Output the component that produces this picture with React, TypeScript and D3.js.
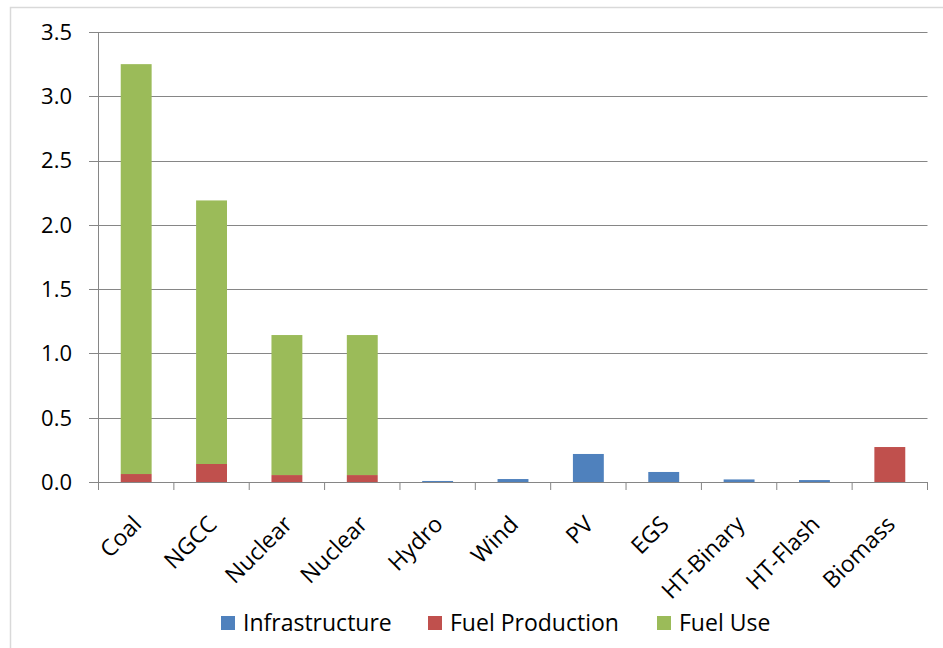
import React from "react";
import * as d3 from "d3";

const categories = ["Coal", "NGCC", "Nuclear", "Nuclear ", "Hydro", "Wind", "PV", "EGS", "HT-Binary", "HT-Flash", "Biomass"];
const categoryLabels = ["Coal", "NGCC", "Nuclear", "Nuclear", "Hydro", "Wind", "PV", "EGS", "HT-Binary", "HT-Flash", "Biomass"];
const infrastructure = [0, 0, 0, 0, 0.008, 0.023, 0.218, 0.078, 0.02, 0.015, 0];
const fuelProduction = [0.062, 0.14, 0.054, 0.054, 0, 0, 0, 0, 0, 0, 0.272];
const fuelUse = [3.188, 2.05, 1.089, 1.089, 0, 0, 0, 0, 0, 0, 0];
const seriesNames = ["Infrastructure", "Fuel Production", "Fuel Use"];
const seriesColors = ["#4F81BD", "#C0504D", "#9BBB59"];
const yTicks = [0, 0.5, 1.0, 1.5, 2.0, 2.5, 3.0, 3.5];

const W = 943, H = 648;
const left = 98.5, right = 927.5, top = 32, bottom = 482;
const FONT = "'Open Sans', sans-serif";

export default function App() {
  const x = d3.scaleBand<string>().domain(categories).range([left, right]).paddingInner(0.59).paddingOuter(0.295);
  const y = d3.scaleLinear().domain([0, 3.5]).range([bottom, top]);
  const rows = categories.map((c, i) => ({ cat: c, inf: infrastructure[i], fp: fuelProduction[i], fu: fuelUse[i] }));
  const stack = d3.stack<any>().keys(["inf", "fp", "fu"])(rows);
  const step = (right - left) / categories.length;
  const legendX = [221, 428, 657];

  return (
    <svg width={W} height={H} style={{ position: "absolute", left: 0, top: 0, background: "#fff" }} fontFamily={FONT}>
      <rect x={10.5} y={7.5} width={W} height={H} fill="#fff" stroke="#d9d9d9" strokeWidth={1.5} />
      {yTicks.map((t) => (
        <g key={t}>
          <line x1={89} x2={right} y1={Math.round(y(t)) + 0.5} y2={Math.round(y(t)) + 0.5} stroke="#868686" strokeWidth={1} />
          <text x={72} y={y(t)} dy="0.36em" textAnchor="end" fontSize={22} fill="#000">{t.toFixed(1)}</text>
        </g>
      ))}
      <line x1={left} x2={left} y1={top} y2={bottom + 8} stroke="#868686" />
      {d3.range(categories.length + 1).map((i) => (
        <line key={i} x1={left + i * step} x2={left + i * step} y1={bottom} y2={bottom + 8} stroke="#868686" />
      ))}
      {stack.map((s, si) => (
        <g key={si} fill={seriesColors[si]}>
          {s.map((d, i) => (d[1] - d[0] > 0 ? (
            <rect key={i} x={x(categories[i])} width={x.bandwidth()} y={y(d[1])} height={y(d[0]) - y(d[1])} />
          ) : null))}
        </g>
      ))}
      <line x1={left} x2={right} y1={bottom + 0.5} y2={bottom + 0.5} stroke="#868686" />
      {categories.map((c, i) => {
        const cx = (x(c) as number) + x.bandwidth() / 2;
        return (
          <text key={c} transform={`translate(${cx + 1},${bottom + 38}) rotate(-45)`} textAnchor="end" dy="0.35em" fontSize={23} fill="#000">{categoryLabels[i]}</text>
        );
      })}
      {seriesNames.map((n, i) => (
        <g key={n}>
          <rect x={legendX[i]} y={616} width={14} height={14} fill={seriesColors[i]} />
          <text x={legendX[i] + 22} y={631} fontSize={23} fill="#000">{n}</text>
        </g>
      ))}
    </svg>
  );
}
